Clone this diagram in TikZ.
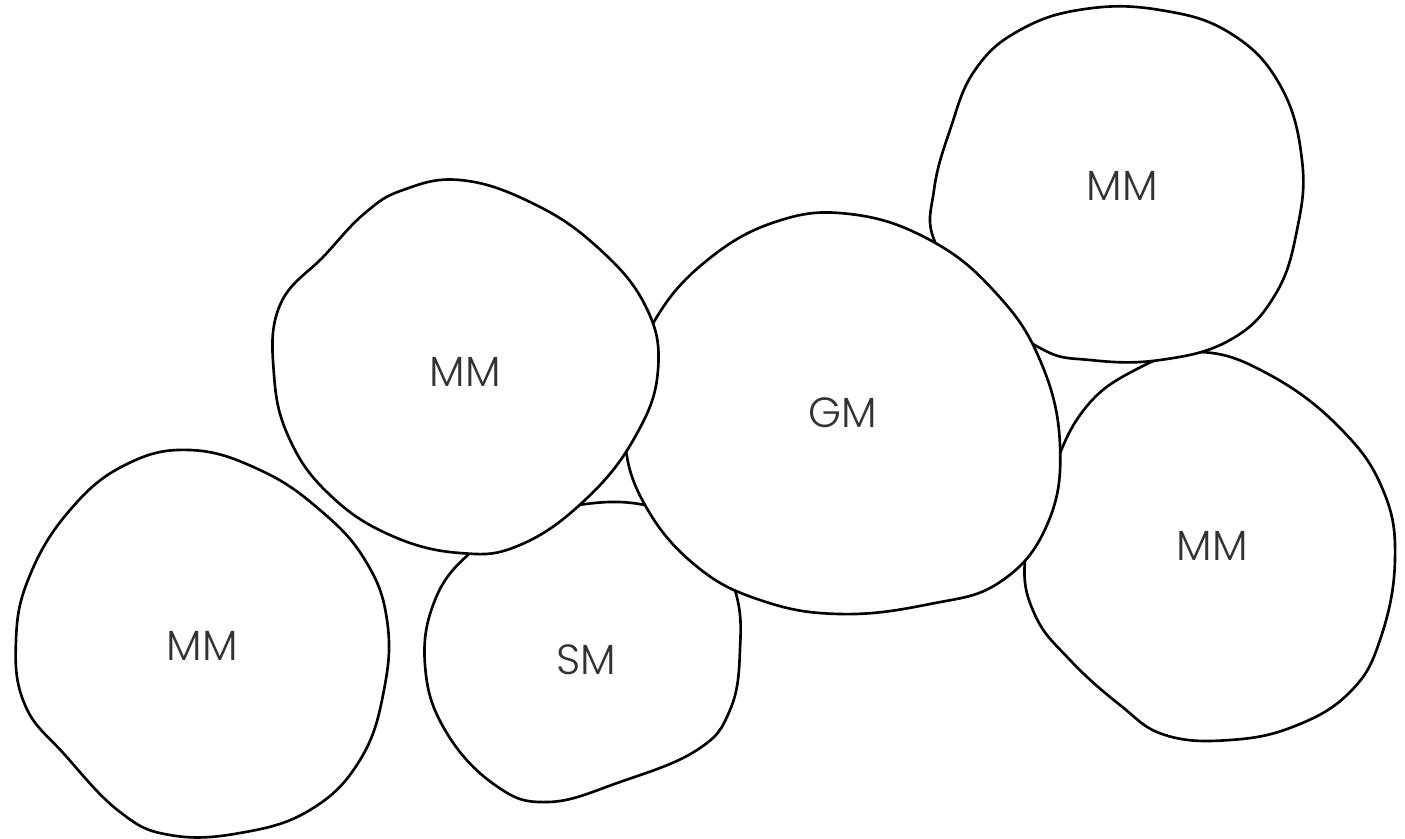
\documentclass[tikz,border=0pt]{standalone}
\usepackage{fontspec}
\setmainfont{Poppins}[UprightFont=* Light]
\begin{document}
\begin{tikzpicture}[x=0.01cm,y=-0.01cm,
  blob/.style={draw=black,fill=white,line width=0.75pt,line join=round},
  lbl/.style={font=\fontsize{12}{14}\selectfont,text=black!80}]
\useasboundingbox[fill=white] (0,0) rectangle (1405,838);
% SM
\draw[blob] plot[smooth cycle,tension=0.7] coordinates {(470,553) (435,600) (425,665) (445,730) (495,785) (548,802) (620,782) (697,750) (730,710) (740,650) (735,590) (705,530) (645,505) (578,505) (520,522)};
% right MM
\draw[blob] plot[smooth cycle,tension=0.7] coordinates {(1200,352) (1270,375) (1340,428) (1383,490) (1395,560) (1380,640) (1350,692) (1295,726) (1230,740) (1165,735) (1120,705) (1070,660) (1035,615) (1025,560) (1045,495) (1080,415) (1135,370)};
% top right MM
\draw[blob] plot[smooth cycle,tension=0.7] coordinates {(935,242) (934,190) (950,130) (975,70) (1020,30) (1085,9) (1160,10) (1230,33) (1280,85) (1302,160) (1297,230) (1275,295) (1230,340) (1160,360) (1090,360) (1040,348) (980,300)};
% GM
\draw[blob] plot[smooth cycle,tension=0.7] coordinates {(655,320) (705,262) (775,222) (850,214) (930,240) (995,292) (1040,360) (1060,445) (1047,525) (1000,582) (930,604) (840,614) (760,600) (695,565) (645,505) (625,440) (635,380)};
% left middle MM
\draw[blob] plot[smooth cycle,tension=0.7] coordinates {(403,190) (460,180) (530,202) (595,245) (645,305) (658,370) (635,437) (585,500) (520,545) (460,553) (390,535) (330,495) (290,440) (274,375) (280,305) (325,255) (365,213)};
% bottom left MM
\draw[blob] plot[smooth cycle,tension=0.7] coordinates {(190,450) (260,470) (320,510) (365,560) (387,620) (384,690) (360,760) (310,810) (240,833) (170,835) (120,812) (65,755) (25,705) (16,640) (30,575) (70,510) (125,465)};
\node[lbl] (mmA) at (465,372) {MM};
\node[lbl] (gm) at (843,413) {GM};
\node[lbl] (mmB) at (1122,186) {MM};
\node[lbl] (mmC) at (1212,546) {MM};
\node[lbl] (mmD) at (202,646) {MM};
\node[lbl] (sm) at (586,660) {SM};
\end{tikzpicture}
\end{document}
